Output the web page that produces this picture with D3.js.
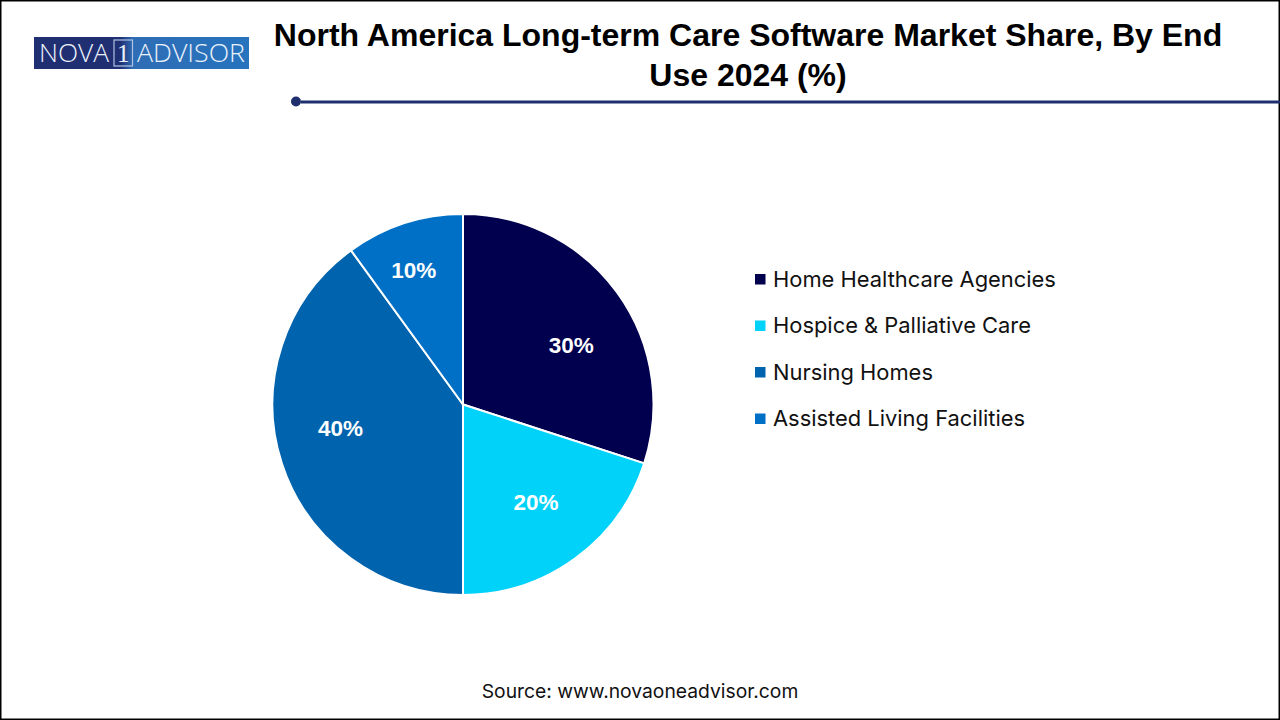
<!DOCTYPE html>
<html><head><meta charset="utf-8">
<script src="https://cdn.jsdelivr.net/npm/d3@7"></script>
<style>html,body{margin:0;padding:0;background:#fff}svg{display:block}</style>
</head><body><svg id="c" width="1280" height="720"></svg>
<script>
const categories=["Home Healthcare Agencies","Hospice & Palliative Care","Nursing Homes","Assisted Living Facilities"];
const shares=[30,20,40,10];
const colors=["#00004F","#00D2FA","#0063AE","#0070C6"];
const titleLines=["North America Long-term Care Software Market Share, By End","Use 2024 (%)"];
const sourceText="Source: www.novaoneadvisor.com";

const svg=d3.select("#c");
const uiFont="Inter, Roboto, sans-serif";
svg.append("rect").attr("x",.75).attr("y",.75).attr("width",1278.5).attr("height",718.5).attr("fill","#fff").attr("stroke","#000").attr("stroke-width",1.5);

// logo
const logo=svg.append("g");
const grad=svg.append("defs").append("linearGradient").attr("id","lg");
[[0,"#1F2F72"],[.4,"#1F2F72"],[.46,"#2F6DB5"],[1,"#2673BE"]].forEach(s=>grad.append("stop").attr("offset",s[0]).attr("stop-color",s[1]));
logo.append("rect").attr("x",34).attr("y",37).attr("width",215).attr("height",32).attr("fill","url(#lg)");
logo.append("rect").attr("x",114).attr("y",40).attr("width",18.5).attr("height",26).attr("fill","none").attr("stroke","#AFC4E2").attr("stroke-width",1.2);
const lt=(t,x,w)=>logo.append("text").attr("x",x).attr("y",62).attr("textLength",w).attr("lengthAdjust","spacingAndGlyphs").attr("fill","#EAF1FA").attr("font-family","'Open Sans',sans-serif").attr("font-weight",300).attr("font-size",25).text(t);
lt("NOVA",39,70);lt("ADVISOR",137,108);
logo.append("text").attr("x",123.3).attr("y",62).attr("text-anchor","middle").attr("fill","#EAF1FA").attr("font-family","'Liberation Serif',serif").attr("font-size",25).text("1");

// title
svg.append("g").selectAll("text").data(titleLines).join("text")
 .attr("x",748).attr("y",(d,i)=>46+i*40).attr("text-anchor","middle")
 .attr("font-family","'Liberation Sans',Arial,sans-serif").attr("font-weight",700).attr("font-size",32).attr("fill","#000").text(d=>d);
svg.append("circle").attr("cx",296).attr("cy",101.5).attr("r",5).attr("fill","#1F2F6E");
svg.append("line").attr("x1",301).attr("x2",1280).attr("y1",102).attr("y2",102).attr("stroke","#1F2F6E").attr("stroke-width",3);

// pie
const cx=463,cy=404.5,R=190.5;
const pie=d3.pie().sort(null).value(d=>d)(shares);
const arc=d3.arc().innerRadius(0).outerRadius(R);
const g=svg.append("g").attr("transform",`translate(${cx},${cy})`);
g.selectAll("path").data(pie).join("path").attr("d",arc).attr("fill",(d,i)=>colors[i]).attr("stroke","#fff").attr("stroke-width",2);
const la=d3.arc().innerRadius(114).outerRadius(114);
// manual nudges of the data labels away from the slice centroids
const nudgeX=[16,6,-14,-14], nudgeY=[7,5,-12,-26];
g.selectAll("text").data(pie).join("text")
 .attr("transform",(d,i)=>{const c=la.centroid(d);return `translate(${c[0]+nudgeX[i]},${c[1]+nudgeY[i]})`;})
 .attr("text-anchor","middle").attr("dy","0.36em")
 .attr("font-family","'Liberation Sans',Arial,sans-serif").attr("font-weight",700).attr("font-size",22.5).attr("fill","#fff").text(d=>d.data+"%");

// legend
const y=d3.scalePoint().domain(categories).range([279,418.5]);
const leg=svg.append("g").selectAll("g").data(categories).join("g").attr("transform",d=>`translate(0,${y(d)})`);
leg.append("rect").attr("x",755).attr("y",-5).attr("width",10.5).attr("height",10.5).attr("fill",(d,i)=>colors[i]);
leg.append("text").attr("x",773).attr("y",0).attr("dy","0.36em").attr("font-family",uiFont).attr("font-size",21.9).attr("fill","#111").text(d=>d);

svg.append("text").attr("x",640).attr("y",698).attr("text-anchor","middle").attr("font-family",uiFont).attr("font-size",19.3).attr("fill","#111").text(sourceText);
</script></body></html>
